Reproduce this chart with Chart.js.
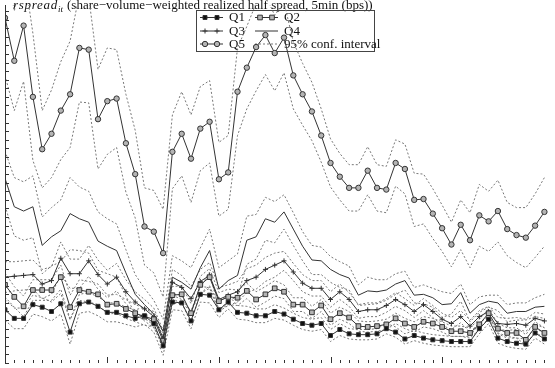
<!DOCTYPE html>
<html lang="en">
  <head>
    <meta charset="UTF-8" />
    <title>Realized half spread by quintile</title>
    <script src="https://cdn.jsdelivr.net/npm/chart.js"></script>
    <style>
      html, body { margin: 0; padding: 0; background: #fff; }
      .wrap { position: relative; width: 555px; height: 368px; }
    </style>
  </head>
  <body>
    <div class="wrap"><canvas id="spreadChart" width="555" height="368"></canvas></div>

    <script>
      // 5-minute intervals, minutes after the open (9:35, 9:40, ...)
      const minutes = [];
      for (let m = 5; m <= 295; m += 5) minutes.push(m);

      // mean realized half spread per size quintile (bps)
      const q1 = [6.2,5.2,5.2,6.8,6.5,6.0,6.9,3.6,6.9,7.1,6.6,5.9,5.9,5.5,5.2,5.5,4.6,2.0,7.1,7.0,4.9,8.0,7.9,6.2,7.1,5.9,5.8,5.5,5.5,6.0,5.7,5.1,4.6,4.4,4.6,3.2,3.9,3.4,3.3,3.3,3.4,4.0,3.6,2.8,3.2,2.9,2.7,2.6,2.5,2.5,2.5,4.0,5.1,2.9,2.5,2.3,2.2,3.5,2.8];
      const q2 = [9.1,7.7,6.6,8.5,8.5,8.5,10.0,6.5,8.5,8.3,8.0,6.8,6.9,6.3,5.8,5.4,5.1,2.6,7.9,8.0,5.8,9.1,10.0,7.2,7.7,7.6,8.4,7.4,8.0,8.7,8.3,6.8,6.8,5.9,6.7,5.1,5.8,5.3,4.3,4.2,4.3,4.5,5.2,4.6,4.2,4.8,4.6,4.2,3.7,3.7,3.5,4.5,5.8,4.0,3.5,3.5,2.7,4.2,3.5];
      const q3 = [10.0,10.1,10.2,10.3,9.2,9.6,12.2,10.4,10.4,11.9,10.3,9.2,10.0,8.3,7.1,6.3,5.4,2.9,9.4,8.8,7.5,9.5,10.2,7.4,7.9,8.3,9.6,10.0,10.9,11.4,11.9,10.6,9.3,8.7,8.7,7.4,8.3,7.4,6.0,6.2,6.2,6.7,7.4,6.8,6.0,6.8,6.0,5.1,4.6,5.4,4.3,5.4,6.0,4.6,4.5,4.6,4.4,5.2,4.9];
      const q4 = [21.5,18.2,17.7,18.2,13.7,14.7,15.4,17.4,16.8,16.4,14.2,13.6,13.1,10.5,8.0,6.8,5.7,3.7,10.0,9.4,8.6,11.1,13.1,8.6,9.6,10.2,14.3,14.7,16.8,16.4,17.6,15.6,13.6,12.0,11.9,10.9,10.3,9.9,7.9,8.4,8.3,8.5,9.2,9.6,7.9,8.0,7.6,6.8,6.9,8.2,5.8,6.8,7.2,7.0,5.8,6.0,6.0,6.5,6.6];
      const q5 = [40.2,35.2,39.3,31.0,24.9,26.7,29.4,31.3,36.7,36.5,28.4,30.5,30.8,25.6,22.0,15.9,15.3,12.8,24.6,26.7,23.8,27.3,28.1,21.4,22.2,31.6,34.4,36.8,38.2,36.1,37.9,33.5,31.3,29.3,26.5,23.3,21.7,20.4,20.4,22.4,20.4,20.2,23.3,22.6,19.0,19.1,17.4,15.7,13.8,16.1,14.3,17.2,16.5,17.7,15.6,14.9,14.6,16.0,17.6];

      // half width of the 95% confidence interval (bps)
      const ci1 = [1.2,1.2,1.2,1.1,1.1,1.1,1.2,1.4,1.1,1.1,1.1,1.1,1.1,1.0,1.0,1.0,1.0,1.1,0.9,0.9,0.9,0.9,0.9,0.9,0.8,0.8,0.8,0.8,0.8,0.8,0.7,0.7,0.7,0.7,0.7,0.7,0.7,0.6,0.6,0.6,0.6,0.6,0.6,0.6,0.6,0.6,0.6,0.6,0.6,0.6,0.6,0.6,0.5,0.6,0.6,0.6,0.6,0.6,0.6];
      const ci2 = [1.4,1.2,1.2,1.2,1.2,1.2,1.4,1.4,1.2,1.2,1.2,1.1,1.1,1.1,1.0,1.0,0.9,0.9,1.0,1.0,1.1,1.0,1.0,1.0,0.9,0.9,0.9,0.9,0.9,0.9,0.8,0.8,0.8,0.7,0.7,0.7,0.7,0.7,0.6,0.6,0.6,0.6,0.6,0.6,0.6,0.6,0.6,0.6,0.6,0.6,0.6,0.6,0.5,0.6,0.6,0.6,0.6,0.6,0.6];
      const ci3 = [1.8,1.7,1.7,1.7,1.7,1.6,1.9,1.7,1.7,1.8,1.7,1.6,1.6,1.4,1.2,1.1,1.0,0.9,1.5,1.4,1.4,1.4,1.5,1.4,1.2,1.2,1.4,1.4,1.4,1.4,1.1,1.0,1.0,0.9,0.9,0.9,0.9,0.8,0.8,0.8,0.8,0.8,0.8,0.7,0.7,0.7,0.7,0.7,0.7,0.7,0.7,0.7,0.6,0.7,0.7,0.7,0.7,0.7,0.8];
      const ci4 = [3.2,3.4,3.4,3.6,3.3,3.4,3.6,4.2,3.7,3.6,3.4,3.2,3.1,2.7,2.3,1.9,1.6,1.4,2.5,2.5,2.5,2.3,2.5,2.5,2.3,2.5,2.8,2.6,2.5,2.4,2.0,1.9,1.7,1.7,1.6,1.5,1.5,1.4,1.2,1.6,1.4,1.2,1.2,1.1,0.9,1.1,1.1,1.5,1.2,1.0,1.0,0.9,0.7,0.9,1.0,1.0,1.0,1.1,1.4];
      const ci5 = [6.7,5.8,6.5,7.4,4.5,5.1,5.7,6.2,6.3,6.2,5.8,6.2,5.7,5.7,5.1,4.5,4.8,5.1,4.3,4.9,5.1,4.9,4.8,4.3,4.3,5.1,4.8,5.1,4.6,4.4,4.1,3.9,3.6,3.4,3.1,2.8,2.7,2.7,2.7,2.8,2.7,2.7,2.7,2.9,3.1,2.9,2.9,2.7,2.6,2.9,3.2,3.6,3.5,3.6,3.1,3.2,3.5,3.7,4.0];

      const lineColor = "#333";
      const bandColor = "#777";

      const quintiles = [
        { label: "Q1", mean: q1, ci: ci1, style: "rect", radius: 2.8, bg: "#111" },
        { label: "Q2", mean: q2, ci: ci2, style: "rect", radius: 3.3, bg: "#b4b4b4" },
        { label: "Q3", mean: q3, ci: ci3, style: "cross", radius: 2.5, bg: "#333" },
        { label: "Q4", mean: q4, ci: ci4, style: "circle", radius: 0, bg: "#333" },
        { label: "Q5", mean: q5, ci: ci5, style: "circle", radius: 2.7, bg: "#b4b4b4" },
      ];

      const toPoints = (arr) => arr.map((v, i) => ({ x: minutes[i], y: v }));

      const datasets = [];
      quintiles.forEach((q) => {
        datasets.push({
          label: q.label,
          data: toPoints(q.mean),
          borderColor: lineColor,
          borderWidth: 1,
          pointStyle: q.style,
          pointRadius: q.radius,
          pointBackgroundColor: q.bg,
          pointBorderColor: lineColor,
          pointBorderWidth: 1,
          order: 0,
        });
        ["upper", "lower"].forEach((side) => {
          datasets.push({
            label: q.label + " " + side,
            data: toPoints(q.mean.map((m, i) => (side === "upper" ? m + q.ci[i] : m - q.ci[i]))),
            borderColor: bandColor,
            borderWidth: 1,
            borderDash: [2, 2],
            pointRadius: 0,
            order: 1,
          });
        });
      });

      function drawMarker(ctx, style, r, bg, x, y) {
        if (!r) return;
        ctx.save();
        ctx.fillStyle = bg;
        ctx.strokeStyle = lineColor;
        ctx.lineWidth = 1;
        ctx.beginPath();
        if (style === "rect") {
          const s = r / Math.SQRT2;
          ctx.rect(x - s, y - s, 2 * s, 2 * s);
          ctx.fill();
          ctx.stroke();
        } else if (style === "cross") {
          ctx.moveTo(x - r, y);
          ctx.lineTo(x + r, y);
          ctx.moveTo(x, y - r);
          ctx.lineTo(x, y + r);
          ctx.stroke();
        } else {
          ctx.arc(x, y, r, 0, Math.PI * 2);
          ctx.fill();
          ctx.stroke();
        }
        ctx.restore();
      }

      // title and legend box, drawn under the lines like the original
      const titleAndLegend = {
        id: "titleAndLegend",
        beforeDatasetsDraw(chart) {
          const ctx = chart.ctx;
          ctx.save();
          ctx.fillStyle = "#111";
          ctx.textBaseline = "alphabetic";
          ctx.font = 'italic 13px "Liberation Serif"';
          ctx.letterSpacing = "0.7px";
          ctx.fillText("rspread", 13, 8.5);
          ctx.letterSpacing = "0px";
          ctx.font = 'italic 9px "Liberation Serif"';
          ctx.fillText("it", 58, 11.5);
          ctx.font = '13px "Liberation Serif"';
          ctx.fillText("(share\u2212volume\u2212weighted realized half spread, 5min (bps))", 67, 8.5);

          // legend
          ctx.strokeStyle = "#444";
          ctx.lineWidth = 1;
          ctx.strokeRect(196.5, 10.5, 178, 41);
          const rows = [17, 30.5, 43.5];
          const cols = [200, 255];
          const entries = quintiles.map((q) => ({ text: q.label, q }));
          entries.push({ text: "95% conf. interval", band: true });
          entries.forEach((e, k) => {
            const x0 = cols[k % 2];
            const y0 = rows[Math.floor(k / 2)];
            ctx.save();
            ctx.strokeStyle = e.band ? bandColor : lineColor;
            ctx.setLineDash(e.band ? [2, 2] : []);
            ctx.beginPath();
            ctx.moveTo(x0, y0 + 0.5);
            ctx.lineTo(x0 + 23, y0 + 0.5);
            ctx.stroke();
            ctx.restore();
            if (!e.band) {
              drawMarker(ctx, e.q.style, e.q.radius, e.q.bg, x0 + 5, y0 + 0.5);
              drawMarker(ctx, e.q.style, e.q.radius, e.q.bg, x0 + 17, y0 + 0.5);
            }
            ctx.fillStyle = "#111";
            ctx.font = '13px "Liberation Serif"';
            ctx.textBaseline = "middle";
            ctx.fillText(e.text, x0 + 29, y0 + 1);
          });
          ctx.restore();
        },
      };

      // inward tick marks on the left and bottom edges
      const axisTicks = {
        id: "axisTicks",
        afterDraw(chart) {
          const { ctx, chartArea: a, scales } = chart;
          const x = scales.x;
          const y = scales.y;
          ctx.save();
          ctx.strokeStyle = "#333";
          ctx.lineWidth = 1;
          ctx.beginPath();
          ctx.moveTo(a.left + 0.5, a.top);
          ctx.lineTo(a.left + 0.5, a.bottom);
          for (let v = 0; v <= y.max; v += 1) {
            const py = Math.round(y.getPixelForValue(v)) + 0.5;
            ctx.moveTo(a.left, py);
            ctx.lineTo(a.left + 4, py);
          }
          for (let m = 5; m <= x.max; m += 5) {
            const px = Math.round(x.getPixelForValue(m)) + 0.5;
            const len = m % 60 === 0 ? 6 : 3;
            ctx.moveTo(px, a.bottom);
            ctx.lineTo(px, a.bottom - len);
          }
          ctx.stroke();
          ctx.restore();
        },
      };

      const ctx = document.getElementById("spreadChart").getContext("2d");
      new Chart(ctx, {
        type: "line",
        data: { datasets },
        options: {
          responsive: false,
          animation: false,
          layout: { padding: 0 },
          elements: { line: { tension: 0 } },
          scales: {
            x: { type: "linear", min: 5, max: 298, display: false },
            y: { type: "linear", min: 0, max: 41.7, display: false },
          },
          plugins: { legend: { display: false }, tooltip: { enabled: false } },
        },
        plugins: [titleAndLegend, axisTicks],
      });
    </script>
  </body>
</html>
